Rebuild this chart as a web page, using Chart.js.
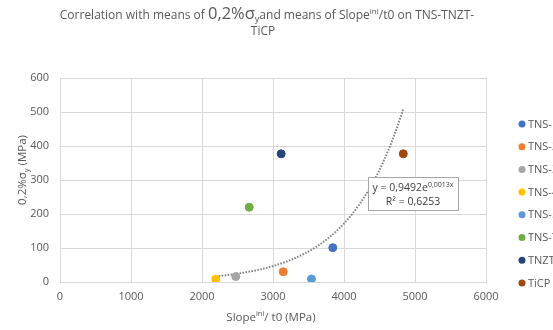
<!DOCTYPE html>
<html>
<head>
<meta charset="utf-8">
<script src="https://cdn.jsdelivr.net/npm/chart.js@4.4.1/dist/chart.umd.min.js"></script>
<style>
  html, body { margin: 0; padding: 0; background: #fff; overflow: hidden; }
  #wrap { width: 553px; height: 330px; }
</style>
</head>
<body>
<div id="wrap"><canvas id="corrChart"></canvas></div>
<script>
// means per material
const seriesNames = ['TNS-1', 'TNS-2', 'TNS-3', 'TNS-4', 'TNS-5', 'TNS-T', 'TNZT', 'TiCP'];
const seriesColors = ['#4472c4', '#ed7d31', '#a5a5a5', '#ffc000', '#5b9bd5', '#70ad47', '#264478', '#9e480e'];
const slopeMeans = [3842, 3144, 2476, 2194, 3542, 2665, 3115, 4835];
const yieldMeans = [101, 30, 16, 8, 9, 220, 377, 377];

// exponential fit y = a e^(b x)
const fitA = 0.9492;
const fitB = 0.0013;
const fitR2 = '0,6253';

const xTicks = [0, 1000, 2000, 3000, 4000, 5000, 6000];
const yTicks = [0, 100, 200, 300, 400, 500, 600];

const FONT = "'Open Sans', 'DejaVu Sans', sans-serif";
const GREY = '#595959';

let datasets = [];
for (let i = 0; i < seriesNames.length; i++) {
  datasets.push({
    label: seriesNames[i],
    data: [{ x: slopeMeans[i], y: yieldMeans[i] }],
    backgroundColor: seriesColors[i],
    borderColor: seriesColors[i],
    pointRadius: 4,
    pointHoverRadius: 4,
    order: 1,
  });
}

// trendline over the data range
const xMin = Math.min(...slopeMeans);
const xMax = Math.max(...slopeMeans);
let trend = [];
for (let x = xMin; x <= xMax; x += 40) {
  trend.push({ x: x, y: fitA * Math.exp(fitB * x) });
}
trend.push({ x: xMax, y: fitA * Math.exp(fitB * xMax) });
datasets.push({
  label: 'trend',
  data: trend,
  showLine: true,
  borderColor: '#7f7f7f',
  borderWidth: 2,
  borderDash: [1.5, 1.5],
  pointRadius: 0,
  fill: false,
  order: 2,
});

// text with sub/superscript pieces: [text, size, dy]
function richWidth(ctx, parts) {
  let w = 0;
  parts.forEach(p => {
    ctx.font = p[1] + 'px ' + FONT;
    w += ctx.measureText(p[0]).width;
  });
  return w;
}
function drawRich(ctx, parts, cx, cy) {
  let x = cx - richWidth(ctx, parts) / 2;
  ctx.textAlign = 'left';
  ctx.textBaseline = 'alphabetic';
  parts.forEach(p => {
    ctx.font = p[1] + 'px ' + FONT;
    ctx.fillText(p[0], x, cy + p[2]);
    x += ctx.measureText(p[0]).width;
  });
}

const decorations = {
  id: 'decorations',
  afterDraw(chart) {
    const ctx = chart.ctx;
    ctx.save();
    ctx.fillStyle = GREY;

    // title
    drawRich(ctx, [
      ['Correlation with means of ', 12, 0],
      ['0,2%σ', 16.5, 0],
      ['y', 9, 3],
      ['and means of Slope', 12, 0],
      ['ini', 8, -5],
      ['/t0 on TNS-TNZT-', 12, 0],
    ], 267, 19);
    drawRich(ctx, [['TiCP', 12, 0]], 263, 35);

    // x axis title
    drawRich(ctx, [
      ['Slope', 11.5, 0],
      ['ini', 7.5, -5],
      ['/ t0 (MPa)', 11.5, 0],
    ], 271, 321);

    // y axis title
    ctx.save();
    ctx.translate(26, 170);
    ctx.rotate(-Math.PI / 2);
    drawRich(ctx, [
      ['0,2%σ', 11.5, 0],
      ['y', 7.5, 3],
      [' (MPa)', 11.5, 0],
    ], 0, 0);
    ctx.restore();

    // fit label box
    const bx = 368, by = 177, bw = 90, bh = 33;
    ctx.fillStyle = '#fff';
    ctx.fillRect(bx, by, bw, bh);
    ctx.strokeStyle = '#a6a6a6';
    ctx.lineWidth = 1;
    ctx.strokeRect(bx + 0.5, by + 0.5, bw, bh);
    ctx.fillStyle = '#404040';
    const aTxt = String(fitA).replace('.', ',');
    const bTxt = String(fitB).replace('.', ',');
    drawRich(ctx, [
      ['y = ' + aTxt + 'e', 10.5, 0],
      [bTxt + 'x', 7, -4],
    ], bx + bw / 2, by + 14);
    drawRich(ctx, [['R² = ' + fitR2, 10.5, 0]], bx + bw / 2, by + 28);

    // legend
    let ly = 124;
    chart.data.datasets.forEach(ds => {
      if (ds.label === 'trend') return;
      ctx.fillStyle = ds.backgroundColor;
      ctx.beginPath();
      ctx.arc(522, ly, 3.5, 0, Math.PI * 2);
      ctx.fill();
      ctx.fillStyle = GREY;
      ctx.font = '11px ' + FONT;
      ctx.textBaseline = 'middle';
      ctx.fillText(ds.label, 528, ly + 0.5);
      ly += 22.7;
    });
    ctx.restore();
  },
};

const ctx = document.getElementById('corrChart');
const corrChart = new Chart(ctx, {
  type: 'scatter',
  data: { datasets: datasets },
  options: {
    responsive: true,
    maintainAspectRatio: false,
    animation: false,
    layout: {
      padding: { top: 78, right: 67, left: 0, bottom: 0 },
    },
    plugins: {
      legend: { display: false },
      title: { display: false },
      tooltip: { enabled: false },
    },
    scales: {
      x: {
        type: 'linear',
        min: xTicks[0],
        max: xTicks[xTicks.length - 1],
        afterBuildTicks: (scale) => { scale.ticks = xTicks.map(v => ({ value: v })); },
        afterFit: (scale) => { scale.height = 48; },
        grid: { color: '#d9d9d9', drawTicks: false },
        border: { color: '#d9d9d9' },
        ticks: {
          color: GREY,
          font: { family: FONT, size: 11 },
          padding: 8,
          callback: (v) => String(v),
        },
      },
      y: {
        type: 'linear',
        min: yTicks[0],
        max: yTicks[yTicks.length - 1],
        afterBuildTicks: (scale) => { scale.ticks = yTicks.map(v => ({ value: v })); },
        afterFit: (scale) => { scale.width = 60; },
        grid: { color: '#d9d9d9', drawTicks: false },
        border: { color: '#d9d9d9' },
        ticks: {
          color: GREY,
          font: { family: FONT, size: 11 },
          padding: 11,
          callback: (v) => String(v),
        },
      },
    },
  },
  plugins: [decorations],
});
</script>
</body>
</html>
